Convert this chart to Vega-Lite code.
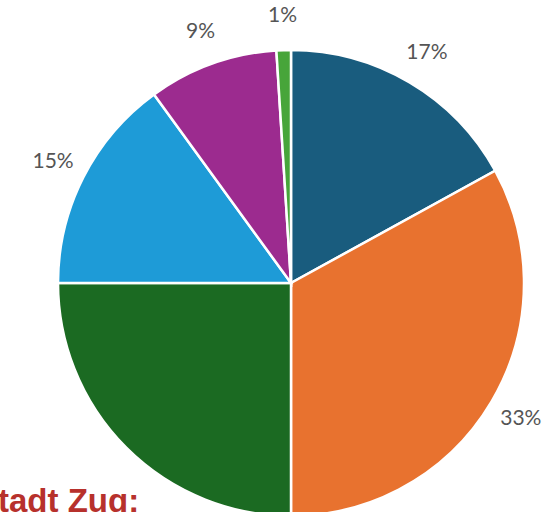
{
  "$schema": "https://vega.github.io/schema/vega-lite/v6.json",
  "autosize": "none",
  "width": 524,
  "height": 458,
  "padding": {"left": 29, "top": 54, "right": 0, "bottom": 0},
  "background": "white",
  "title": {
    "text": "Stadt Zug:",
    "orient": "bottom",
    "anchor": "start",
    "frame": "group",
    "baseline": "alphabetic",
    "offset": -9,
    "dx": -53,
    "font": "Liberation Sans",
    "fontSize": 33,
    "fontWeight": "bold",
    "color": "#b7312c"
  },
  "data": {
    "values": [
      {"category": "Kategorie A", "value": 17, "order": 1, "label": "17%"},
      {"category": "Kategorie B", "value": 33, "order": 2, "label": "33%"},
      {"category": "Kategorie C", "value": 25, "order": 3, "label": ""},
      {"category": "Kategorie D", "value": 15, "order": 4, "label": "15%"},
      {"category": "Kategorie E", "value": 9, "order": 5, "label": "9%"},
      {"category": "Kategorie F", "value": 1, "order": 6, "label": "1%"}
    ]
  },
  "encoding": {
    "theta": {"field": "value", "type": "quantitative", "stack": true},
    "order": {"field": "order", "type": "quantitative"}
  },
  "layer": [
    {
      "mark": {"type": "arc", "outerRadius": 233, "stroke": "white", "strokeWidth": 2.5},
      "encoding": {
        "color": {
          "field": "category",
          "type": "nominal",
          "scale": {
            "domain": ["Kategorie A", "Kategorie B", "Kategorie C", "Kategorie D", "Kategorie E", "Kategorie F"],
            "range": ["#195c7e", "#e8722f", "#1b6a22", "#1e9bd7", "#9c2b8f", "#47a53a"]
          },
          "legend": null
        }
      }
    },
    {
      "mark": {"type": "text", "radius": 267, "font": "Lato", "fontSize": 21, "color": "#555555"},
      "encoding": {
        "text": {"field": "label", "type": "nominal"}
      }
    }
  ]
}
